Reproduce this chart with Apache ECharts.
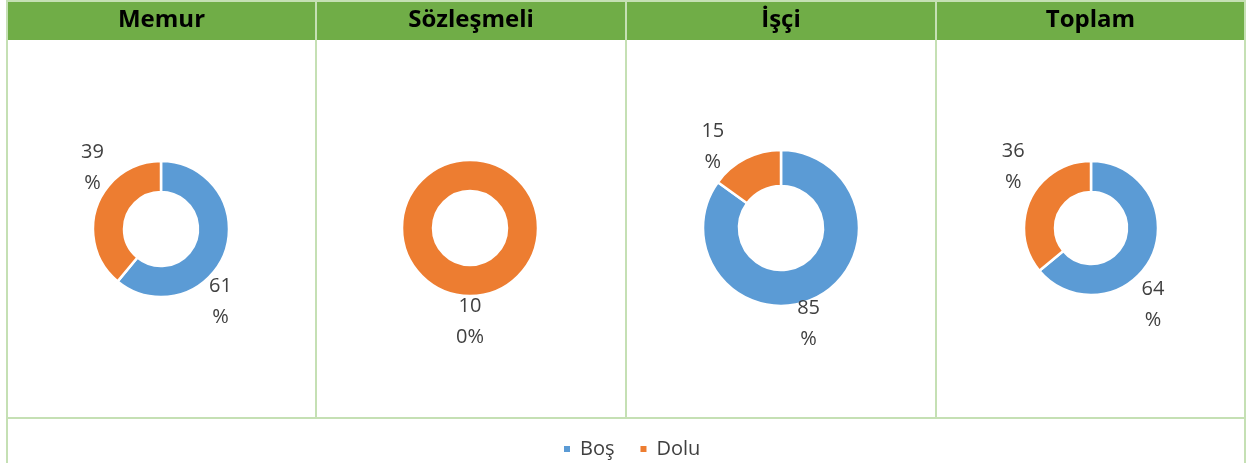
<!DOCTYPE html>
<html>
<head>
<meta charset="utf-8">
<script src="https://cdn.jsdelivr.net/npm/echarts@6/dist/echarts.min.js"></script>
<style>
html, body { margin: 0; padding: 0; background: #fff; }
#main { width: 1248px; height: 463px; }
</style>
</head>
<body>
<div id="main"></div>
<script>
// data
var groups = ['Memur', 'Sözleşmeli', 'İşçi', 'Toplam'];
var categories = ['Boş', 'Dolu'];
var bosValues = [61, 0, 85, 64];
var doluValues = [39, 100, 15, 36];

var colors = ['#5B9BD5', '#ED7D31'];
var gridGreen = '#C5E0B4';
var font = '"Open Sans", sans-serif';

// table layout
var colX = [7, 316, 626, 936, 1245];
var headTop = 2, headBottom = 40, rowBottom = 418, tableBottom = 463;
var centers = [[161, 229], [470, 228], [781, 228], [1091, 228]];
var radii = [[37, 68], [37, 68], [42, 78], [36, 67]];
// hand-placed labels in the original: angle nudge (deg) and gap past the ring (px), [Boş, Dolu]
var labelNudge = [[31, 22], [0, 0], [11, -13], [26, 13]];
var labelGap = [[26, 24], [26, 26], [22, 28], [32, 32]];

// Excel-like wrapped percent label: "39\n%" / "10\n0%"
function pctLabel(p) {
    var s = Math.round(p.percent) + '%';
    return s.slice(0, 2) + '\n' + s.slice(2);
}

function labelPos(params) {
    var i = params.seriesIndex, k = params.dataIndex;
    var vals = [bosValues[i], doluValues[i]];
    var total = vals[0] + vals[1];
    var before = 0;
    for (var j = 0; j < k; j++) before += vals[j];
    var mid = (before + vals[k] / 2) / total * 360 + labelNudge[i][k];
    var a = mid * Math.PI / 180;
    var d = radii[i][1] + labelGap[i][k];
    return {
        x: centers[i][0] + d * Math.sin(a),
        y: centers[i][1] - d * Math.cos(a),
        align: 'center',
        verticalAlign: 'middle'
    };
}

function getSeries(i) {
    var vals = [bosValues[i], doluValues[i]];
    return {
        type: 'pie',
        center: centers[i],
        radius: radii[i],
        startAngle: 90,
        clockwise: true,
        avoidLabelOverlap: false,
        silent: true,
        itemStyle: { borderColor: '#fff', borderWidth: 2.5 },
        label: {
            show: true,
            position: 'outside',
            formatter: pctLabel,
            color: '#404040',
            fontFamily: font,
            fontSize: 20,
            lineHeight: 31
        },
        labelLine: { show: false },
        labelLayout: labelPos,
        data: categories.map(function (name, k) {
            return {
                name: name,
                value: vals[k],
                label: { show: vals[k] > 0 }
            };
        })
    };
}

var graphics = [];
// header band
graphics.push({
    type: 'rect', z: 0,
    shape: { x: colX[0], y: headTop, width: colX[4] - colX[0], height: headBottom - headTop },
    style: { fill: '#70AD47' }
});
// vertical borders
colX.forEach(function (x, k) {
    var bottom = (k === 0 || k === 4) ? tableBottom : rowBottom;
    graphics.push({
        type: 'line', z: 1,
        shape: { x1: x, y1: 0, x2: x, y2: bottom },
        style: { stroke: gridGreen, lineWidth: 2 }
    });
});
// horizontal borders
[headTop - 1, rowBottom].forEach(function (y) {
    graphics.push({
        type: 'line', z: 1,
        shape: { x1: colX[0], y1: y, x2: colX[4], y2: y },
        style: { stroke: gridGreen, lineWidth: 2 }
    });
});

var titles = groups.map(function (g, i) {
    return {
        text: g,
        left: (colX[i] + colX[i + 1]) / 2,
        top: 8,
        padding: 0,
        textAlign: 'center',
        textStyle: { fontFamily: font, fontWeight: 'bold', fontSize: 24, color: '#000' }
    };
});

var option = {
    animation: false,
    color: colors,
    title: titles,
    legend: {
        data: categories,
        left: 557,
        top: 434,
        itemWidth: 8,
        itemHeight: 8,
        itemGap: 24,
        icon: 'rect',
        textStyle: { fontFamily: font, fontSize: 20, color: '#404040', padding: [0, 0, 0, 4] }
    },
    graphic: graphics,
    series: groups.map(function (g, i) { return getSeries(i); })
};

var chart = echarts.init(document.getElementById('main'));
chart.setOption(option);
</script>
</body>
</html>
